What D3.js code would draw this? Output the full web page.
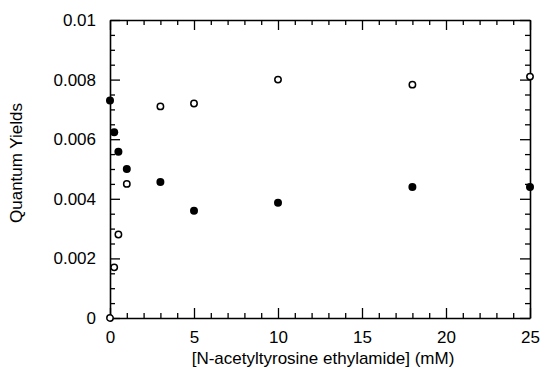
<!DOCTYPE html>
<html>
<head>
<meta charset="utf-8">
<script src="https://cdn.jsdelivr.net/npm/d3@7"></script>
<style>
  body { margin: 0; background: #fff; }
  text { font-family: "Liberation Sans", Arial, sans-serif; fill: #000; }
</style>
</head>
<body>
<div id="chart"></div>
<script>
// concentrations (mM)
const conc = [0, 0.25, 0.5, 1, 3, 5, 10, 18, 25];
// quantum yields, filled circles
const filledYields = [0.0073, 0.00623, 0.00558, 0.005, 0.00456, 0.0036, 0.00387, 0.0044, 0.0044];
// quantum yields, open circles
const openYields = [0, 0.0017, 0.0028, 0.0045, 0.0071, 0.0072, 0.008, 0.00783, 0.0081];

const xTicks = [0, 5, 10, 15, 20, 25];
const yTicks = [0, 0.002, 0.004, 0.006, 0.008, 0.01];
const yTickLabels = ['0', '0.002', '0.004', '0.006', '0.008', '0.01'];

const width = 540, height = 373;
const margin = {top: 20, right: 10, bottom: 55, left: 110};
const w = width - margin.left - margin.right;
const h = height - margin.top - margin.bottom;

const svg = d3.select('#chart').append('svg')
  .attr('width', width)
  .attr('height', height);

const g = svg.append('g')
  .attr('transform', `translate(${margin.left},${margin.top})`);

const x = d3.scaleLinear().domain([0, 25]).range([0, w]);
const y = d3.scaleLinear().domain([0, 0.01]).range([h, 0]);

// minor ticks
const xMinor = d3.range(0, 26, 1);
const yMinor = d3.range(0, 0.01001, 0.0005);
const isMajorY = d => Math.abs(d / 0.002 - Math.round(d / 0.002)) < 1e-6;

// bottom
const bottomAxis = g.append('g').attr('transform', `translate(0,${h})`)
  .call(d3.axisBottom(x).tickValues(xMinor).tickSizeInner(-5).tickSizeOuter(0).tickFormat(''));
bottomAxis.selectAll('.tick line').filter(d => d % 5 === 0).attr('y2', -10);
g.append('g').attr('transform', `translate(0,${h})`)
  .call(d3.axisBottom(x).tickValues(xTicks).tickSize(0).tickPadding(13))
  .call(a => a.select('.domain').remove())
  .selectAll('text').attr('font-size', 17);

// top
const topAxis = g.append('g')
  .call(d3.axisTop(x).tickValues(xMinor).tickSizeInner(-5).tickSizeOuter(0).tickFormat(''));
topAxis.selectAll('.tick line').filter(d => d % 5 === 0).attr('y2', 10);

// left
const leftAxis = g.append('g')
  .call(d3.axisLeft(y).tickValues(yMinor).tickSizeInner(-5).tickSizeOuter(0).tickFormat(''));
leftAxis.selectAll('.tick line').filter(isMajorY).attr('x2', 10);
g.append('g')
  .call(d3.axisLeft(y).tickValues(yTicks).tickSize(0).tickPadding(14)
    .tickFormat((d, i) => yTickLabels[i]))
  .call(a => a.select('.domain').remove())
  .selectAll('text').attr('font-size', 17);

// right
const rightAxis = g.append('g').attr('transform', `translate(${w},0)`)
  .call(d3.axisRight(y).tickValues(yMinor).tickSizeInner(-5).tickSizeOuter(0).tickFormat(''));
rightAxis.selectAll('.tick line').filter(isMajorY).attr('x2', -10);

g.selectAll('.domain').attr('stroke', '#000').attr('stroke-width', 1.6);
g.selectAll('.tick line').attr('stroke', '#000').attr('stroke-width', 1.3);

// open circles
g.selectAll('.open').data(conc).enter()
  .append('circle')
  .attr('class', 'open')
  .attr('cx', d => x(d))
  .attr('cy', (d, i) => y(openYields[i]))
  .attr('r', 3.2)
  .attr('fill', '#fff')
  .attr('stroke', '#000')
  .attr('stroke-width', 1.5);

// filled circles
g.selectAll('.filled').data(conc).enter()
  .append('circle')
  .attr('class', 'filled')
  .attr('cx', d => x(d))
  .attr('cy', (d, i) => y(filledYields[i]))
  .attr('r', 4)
  .attr('fill', '#000');

// axis titles
svg.append('text')
  .attr('x', 323)
  .attr('y', 364)
  .attr('text-anchor', 'middle')
  .attr('font-size', 17)
  .text('[N-acetyltyrosine ethylamide] (mM)');

svg.append('text')
  .attr('transform', 'translate(22,163) rotate(-90)')
  .attr('text-anchor', 'middle')
  .attr('font-size', 17)
  .text('Quantum Yields');
</script>
</body>
</html>
